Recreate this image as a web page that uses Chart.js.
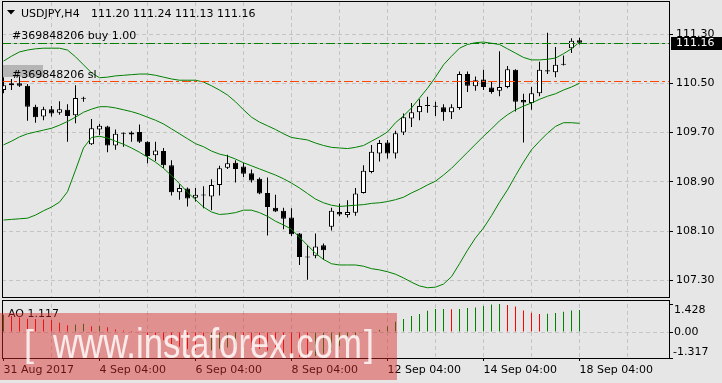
<!DOCTYPE html>
<html>
<head>
<meta charset="utf-8">
<title>USDJPY H4</title>
<script src="https://cdn.jsdelivr.net/npm/chart.js@4.4.0/dist/chart.umd.min.js"></script>
<style>
  html, body { margin: 0; padding: 0; background: #e6e6e6; }
  #wrap { position: relative; width: 722px; height: 383px; overflow: hidden; }
  canvas { position: absolute; left: 0; }
  #main { top: 0; }
  #ao { top: 298px; }
</style>
</head>
<body>
<div id="wrap">
  <canvas id="main" width="722" height="300"></canvas>
  <canvas id="ao" width="722" height="85"></canvas>
</div>
<script>
const symbol = 'USDJPY,H4';

// H4 candles, 31 Aug 04:00 .. 18 Sep 04:00
const open = [
  110.39, 110.47, 110.50, 110.46, 110.12, 109.96, 110.08, 110.02, 110.07, 109.98,
  110.26, 109.51, 109.75, 109.80, 109.49, 109.69, 109.67, 109.71, 109.55, 109.33,
  109.40, 109.17, 108.73, 108.79, 108.64, 108.69, 108.66, 108.85, 109.13, 109.21,
  109.15, 109.04, 108.95, 108.72, 108.48, 108.43, 108.32, 108.06, 107.68, 107.70,
  107.87, 108.17, 108.41, 108.36, 108.40, 108.72, 109.06, 109.36, 109.54, 109.36,
  109.70, 109.93, 110.03, 110.13, 110.13, 110.11, 110.03, 110.10, 110.65, 110.45,
  110.56, 110.43, 110.38, 110.44, 110.72, 110.23, 110.18, 110.34, 110.71, 110.68,
  110.80, 111.07, 111.20
];
const high = [
  110.60, 110.57, 110.62, 110.49, 110.15, 110.12, 110.13, 110.21, 110.16, 110.47,
  110.28, 109.92, 109.84, 109.81, 109.75, 109.70, 109.72, 109.83, 109.56, 109.55,
  109.45, 109.25, 108.86, 108.81, 108.80, 108.83, 108.94, 109.16, 109.34, 109.25,
  109.21, 109.10, 108.97, 108.97, 108.69, 108.48, 108.47, 108.07, 107.87, 108.06,
  107.90, 108.48, 108.55, 108.60, 108.80, 109.17, 109.50, 109.58, 109.58, 109.73,
  110.01, 110.18, 110.24, 110.28, 110.20, 110.16, 110.16, 110.69, 110.69, 110.61,
  110.72, 110.52, 111.02, 110.78, 110.73, 110.33, 110.44, 110.85, 111.32, 111.09,
  110.95, 111.23, 111.24
];
const low = [
  110.34, 110.39, 110.44, 109.89, 109.86, 109.90, 109.96, 109.99, 109.55, 109.85,
  110.20, 109.50, 109.66, 109.38, 109.42, 109.47, 109.55, 109.53, 109.20, 109.24,
  109.12, 108.68, 108.61, 108.50, 108.58, 108.47, 108.44, 108.68, 109.11, 108.89,
  108.98, 108.89, 108.70, 108.03, 108.41, 108.13, 108.02, 107.55, 107.31, 107.66,
  107.63, 108.11, 108.34, 108.32, 108.35, 108.71, 109.04, 109.23, 109.28, 109.28,
  109.66, 109.79, 109.90, 110.02, 109.97, 109.89, 109.92, 110.07, 110.36, 110.38,
  110.39, 110.33, 110.29, 110.42, 110.04, 109.54, 110.07, 110.29, 110.65, 110.60,
  110.79, 110.99, 111.13
];
const close = [
  110.47, 110.50, 110.46, 110.12, 109.95, 110.08, 110.01, 110.08, 109.97, 110.26,
  110.25, 109.77, 109.81, 109.49, 109.68, 109.68, 109.70, 109.55, 109.32, 109.41,
  109.17, 108.73, 108.80, 108.63, 108.69, 108.68, 108.85, 109.12, 109.20, 109.11,
  109.03, 108.92, 108.71, 108.49, 108.42, 108.30, 108.05, 107.68, 107.67, 107.85,
  107.79, 108.43, 108.37, 108.41, 108.71, 109.08, 109.39, 109.53, 109.36, 109.69,
  109.95, 110.03, 110.13, 110.14, 110.12, 110.03, 110.11, 110.65, 110.46, 110.55,
  110.44, 110.36, 110.44, 110.73, 110.20, 110.19, 110.34, 110.72, 110.69, 110.80,
  110.81, 111.19, 111.16
];

// Bollinger bands
const bbUpper = [
  110.86, 110.94, 111.01, 111.04, 111.06, 111.07, 111.07, 111.07, 111.04, 110.93,
  110.80, 110.67, 110.59, 110.60, 110.62, 110.63, 110.64, 110.65, 110.65, 110.63,
  110.60, 110.57, 110.55, 110.55, 110.55, 110.52, 110.46, 110.39, 110.31, 110.20,
  110.07, 109.95, 109.87, 109.81, 109.75, 109.68, 109.62, 109.60, 109.58, 109.53,
  109.49, 109.46, 109.45, 109.44, 109.46, 109.49, 109.56, 109.63, 109.71, 109.86,
  109.97, 110.10, 110.26, 110.42, 110.60, 110.80, 110.94, 111.07, 111.13, 111.16,
  111.17, 111.15, 111.13, 111.06, 110.99, 110.92, 110.88, 110.88, 110.89, 110.91,
  110.98, 111.06, 111.17
];
const bbMiddle = [
  109.50, 109.56, 109.63, 109.68, 109.71, 109.74, 109.77, 109.82, 109.88, 109.95,
  110.03, 110.08, 110.12, 110.12, 110.10, 110.07, 110.04, 110.00, 109.95, 109.90,
  109.84, 109.76, 109.68, 109.60, 109.52, 109.47, 109.40, 109.35, 109.32, 109.27,
  109.21, 109.16, 109.11, 109.06, 109.01, 108.95, 108.88, 108.80, 108.71, 108.62,
  108.56, 108.52, 108.50, 108.51, 108.52, 108.53, 108.55, 108.56, 108.58, 108.61,
  108.65, 108.72, 108.78, 108.85, 108.91, 109.01, 109.12, 109.25, 109.38, 109.51,
  109.64, 109.76, 109.89, 109.99, 110.07, 110.13, 110.18, 110.24, 110.29, 110.33,
  110.39, 110.44, 110.50
];
const bbLower = [
  108.28, 108.29, 108.30, 108.31, 108.36, 108.43, 108.49, 108.57, 108.74, 109.09,
  109.45, 109.62, 109.64, 109.61, 109.56, 109.51, 109.45, 109.38, 109.30, 109.22,
  109.12, 109.00, 108.87, 108.73, 108.61, 108.49, 108.41, 108.37, 108.38, 108.40,
  108.44, 108.44, 108.40, 108.34, 108.26, 108.20, 108.13, 108.00, 107.87, 107.74,
  107.64, 107.57, 107.55, 107.55, 107.55, 107.53, 107.49, 107.47, 107.44, 107.40,
  107.34, 107.27, 107.21, 107.18, 107.19, 107.24, 107.36, 107.57, 107.79, 107.99,
  108.15, 108.35, 108.57, 108.77, 109.00, 109.22, 109.42, 109.56, 109.69, 109.80,
  109.86, 109.86, 109.85
];

// Awesome Oscillator histogram
const ao = [
  0.88, 0.82, 0.74, 0.68, 0.66, 0.64, 0.62, 0.47, 0.35, 0.38,
  0.42, 0.30, 0.31, 0.25, 0.13, 0.08, 0.05, 0.03, -0.15, -0.30,
  -0.42, -0.60, -0.74, -0.86, -0.93, -0.95, -0.92, -0.85, -0.78, -0.74,
  -0.76, -0.80, -0.86, -0.95, -1.02, -1.10, -1.18, -1.26, -1.317, -1.22,
  -1.10, -0.92, -0.72, -0.50, -0.26, 0.02, 0.04, 0.12, 0.28, 0.53,
  0.67, 0.82, 0.92, 1.08, 1.17, 1.18, 1.16, 1.18, 1.22, 1.25,
  1.33, 1.40, 1.428, 1.38, 1.30, 1.10, 0.98, 0.92, 0.93, 0.97,
  1.04, 1.10, 1.117
];

const priceTicks = [107.30, 108.10, 108.90, 109.70, 110.50, 111.30];
const gridBars = [6, 12, 18, 24, 30, 36, 42, 48, 54, 60, 66, 72, 78];
const dateTicks = [0, 12, 24, 36, 48, 60, 72];
const dateLabels = ['31 Aug 2017', '4 Sep 04:00', '6 Sep 04:00', '8 Sep 04:00',
  '12 Sep 04:00', '14 Sep 04:00', '18 Sep 04:00'];
const aoTicks = [-1.317, 0, 1.428];

const bidPrice = 111.16;
const orderPrice = 111.16;
const stopPrice = 110.53;
const orderLabel = '#369848206 buy 1.00';
const stopLabel = '#369848206 sl';

const GRID = '#c4c4c4';
const GREEN = '#008000';
const RED = '#ff0000';
const FONT = '11px "DejaVu Sans"';
const X_MIN = -0.1875;
const X_MAX = 83.1875;

Chart.defaults.font.family = 'DejaVu Sans';
Chart.defaults.font.size = 11;
Chart.defaults.color = '#000';

const pts = arr => arr.map((v, i) => ({ x: i, y: v }));

function hline(ctx, y, x1, x2) {
  ctx.beginPath();
  ctx.moveTo(x1, y);
  ctx.lineTo(x2, y);
  ctx.stroke();
}

// ---- main price panel ----
const mainDecor = {
  id: 'mainDecor',
  afterDraw(chart) {
    const { ctx, chartArea: a } = chart;
    const y = chart.scales.y;
    const py = v => Math.round(y.getPixelForValue(v)) + 0.5;
    ctx.save();
    ctx.lineWidth = 1;

    ctx.strokeStyle = '#c0c0c0';
    hline(ctx, py(bidPrice), a.left, a.right);
    ctx.setLineDash([9, 3, 3, 3]);
    ctx.strokeStyle = GREEN;
    hline(ctx, py(orderPrice), a.left, a.right);
    ctx.strokeStyle = '#ff4500';
    hline(ctx, py(stopPrice), a.left, a.right);
    ctx.setLineDash([]);

    // frame
    ctx.strokeStyle = '#000';
    ctx.strokeRect(a.left + 0.5, a.top - 0.5, a.right - a.left, a.bottom - a.top + 1);

    // title
    ctx.fillStyle = '#000';
    ctx.beginPath();
    ctx.moveTo(7, 10); ctx.lineTo(15, 10); ctx.lineTo(11, 14.5); ctx.closePath();
    ctx.fill();
    ctx.font = FONT;
    ctx.textAlign = 'left';
    ctx.textBaseline = 'alphabetic';
    ctx.fillText(symbol, 21, 17);
    const last = open.length - 1;
    ctx.fillText([open[last], high[last], low[last], close[last]].map(v => v.toFixed(2)).join(' '), 91, 17);

    // order labels
    ctx.fillText(orderLabel, 12, 39);
    ctx.fillStyle = 'rgba(140,140,140,0.55)';
    ctx.fillRect(3, 65, 40, 12);
    ctx.fillStyle = '#000';
    ctx.fillText(stopLabel, 12, 78);

    // current price box
    const bp = y.getPixelForValue(bidPrice);
    ctx.fillRect(a.right + 2, Math.round(bp) - 6, 51, 13);
    ctx.fillStyle = '#fff';
    ctx.textBaseline = 'middle';
    ctx.fillText(bidPrice.toFixed(2), a.right + 7, bp + 0.5);
    ctx.restore();
  }
};

new Chart(document.getElementById('main'), {
  type: 'bar',
  data: {
    datasets: [
      {
        data: open.map((o, i) => ({ x: i, y: [low[i], high[i]] })),
        backgroundColor: '#000',
        borderWidth: 0,
        inflateAmount: 0,
        maxBarThickness: 1,
        grouped: false,
        order: 3
      },
      {
        data: open.map((o, i) => ({ x: i, y: [o, close[i]] })),
        backgroundColor: open.map((o, i) => close[i] > o ? '#ffffff' : '#000000'),
        borderColor: '#000',
        borderWidth: 1,
        borderSkipped: false,
        inflateAmount: 0,
        maxBarThickness: 5,
        minBarLength: 1,
        grouped: false,
        order: 2
      },
      { type: 'line', data: pts(bbUpper), borderColor: GREEN, borderWidth: 1, pointRadius: 0, order: 1 },
      { type: 'line', data: pts(bbMiddle), borderColor: GREEN, borderWidth: 1, pointRadius: 0, order: 1 },
      { type: 'line', data: pts(bbLower), borderColor: GREEN, borderWidth: 1, pointRadius: 0, order: 1 }
    ]
  },
  options: {
    responsive: false,
    animation: false,
    events: [],
    devicePixelRatio: 1,
    layout: { padding: { left: 2, top: 2, right: 0, bottom: 3 } },
    plugins: { legend: { display: false }, tooltip: { enabled: false } },
    scales: {
      x: {
        type: 'linear',
        min: X_MIN,
        max: X_MAX,
        offset: false,
        ticks: { display: false },
        grid: { color: GRID, drawTicks: false, offset: false },
        border: { display: false, dash: [4, 3] },
        afterBuildTicks: s => { s.ticks = gridBars.map(v => ({ value: v })); },
        afterFit: s => { s.height = 0; s.paddingLeft = 0; s.paddingRight = 0; }
      },
      y: {
        position: 'right',
        min: 107.03,
        max: 111.82,
        ticks: { padding: 3, color: '#000', font: { size: 11 }, callback: v => v.toFixed(2) },
        grid: { color: GRID, tickColor: '#000', tickLength: 4 },
        border: { display: false, dash: [4, 3] },
        afterBuildTicks: s => { s.ticks = priceTicks.map(v => ({ value: v })); },
        afterFit: s => { s.width = 53; s.paddingTop = 0; s.paddingBottom = 0; }
      }
    }
  },
  plugins: [mainDecor]
});

// ---- AO panel ----
const aoColors = ao.map((v, i) => (i === 0 || v >= ao[i - 1]) ? GREEN : RED);

const aoDecor = {
  id: 'aoDecor',
  afterDraw(chart) {
    const { ctx, chartArea: a } = chart;
    const y = chart.scales.y;
    ctx.save();
    ctx.lineWidth = 1;
    ctx.strokeStyle = '#000';
    ctx.strokeRect(a.left + 0.5, 2.5, a.right - a.left, a.bottom - 2);

    ctx.font = FONT;
    ctx.fillStyle = '#000';
    ctx.textAlign = 'left';
    ctx.textBaseline = 'middle';
    ctx.fillText(aoTicks[2].toFixed(3), a.right + 5, y.getPixelForValue(aoTicks[2]) + 6);
    ctx.fillText(aoTicks[1].toFixed(2), a.right + 5, y.getPixelForValue(aoTicks[1]));
    ctx.fillText(aoTicks[0].toFixed(3), a.right + 4, y.getPixelForValue(aoTicks[0]) - 6);

    ctx.textBaseline = 'alphabetic';
    ctx.fillText('AO ' + ao[ao.length - 1].toFixed(3), 8, 18.5);

    // watermark
    ctx.fillStyle = 'rgba(220,40,40,0.45)';
    ctx.fillRect(0, 15, 397, 67);
    ctx.fillStyle = 'rgba(255,255,255,0.82)';
    const wm = 'www.instaforex.com';
    ctx.font = '42px "Liberation Sans"';
    const tw = ctx.measureText(wm).width;
    ctx.save();
    ctx.translate(53, 60);
    ctx.scale(309 / tw, 1);
    ctx.fillText(wm, 0, 0);
    ctx.restore();
    ctx.font = '36px "Liberation Sans"';
    ctx.fillText('[', 24, 57.5);
    ctx.fillText(']', 364, 57.5);
    ctx.restore();
  }
};

new Chart(document.getElementById('ao'), {
  type: 'bar',
  data: {
    datasets: [{
      data: pts(ao),
      backgroundColor: aoColors,
      borderWidth: 0,
      inflateAmount: 0,
      maxBarThickness: 1,
      grouped: false
    }]
  },
  options: {
    responsive: false,
    animation: false,
    events: [],
    devicePixelRatio: 1,
    layout: { padding: { left: 2, top: 6, right: 0, bottom: 0 } },
    plugins: { legend: { display: false }, tooltip: { enabled: false } },
    scales: {
      x: {
        type: 'linear',
        min: X_MIN,
        max: X_MAX,
        offset: false,
        ticks: {
          autoSkip: false,
          maxRotation: 0,
          minRotation: 0,
          align: 'start',
          padding: 3,
          color: '#000',
          callback: v => {
            const i = dateTicks.indexOf(v);
            return i >= 0 ? dateLabels[i] : '';
          }
        },
        grid: {
          offset: false,
          color: c => (c.tick && c.tick.value === 0) ? 'transparent' : GRID,
          tickColor: c => (c.tick && dateTicks.includes(c.tick.value)) ? '#000' : 'transparent',
          tickLength: 3
        },
        border: { display: false, dash: [4, 3] },
        afterBuildTicks: s => { s.ticks = [0].concat(gridBars).map(v => ({ value: v })); },
        afterFit: s => { s.height = 25; s.paddingLeft = 0; s.paddingRight = 0; }
      },
      y: {
        position: 'right',
        min: aoTicks[0],
        max: aoTicks[2],
        ticks: { display: false },
        grid: {
          color: c => (c.tick && c.tick.value === 0) ? GRID : 'transparent',
          tickColor: '#000',
          tickLength: 4
        },
        border: { display: false, dash: [4, 3] },
        afterBuildTicks: s => { s.ticks = aoTicks.map(v => ({ value: v })); },
        afterFit: s => { s.width = 53; s.paddingTop = 0; s.paddingBottom = 0; }
      }
    }
  },
  plugins: [aoDecor]
});
</script>
</body>
</html>
